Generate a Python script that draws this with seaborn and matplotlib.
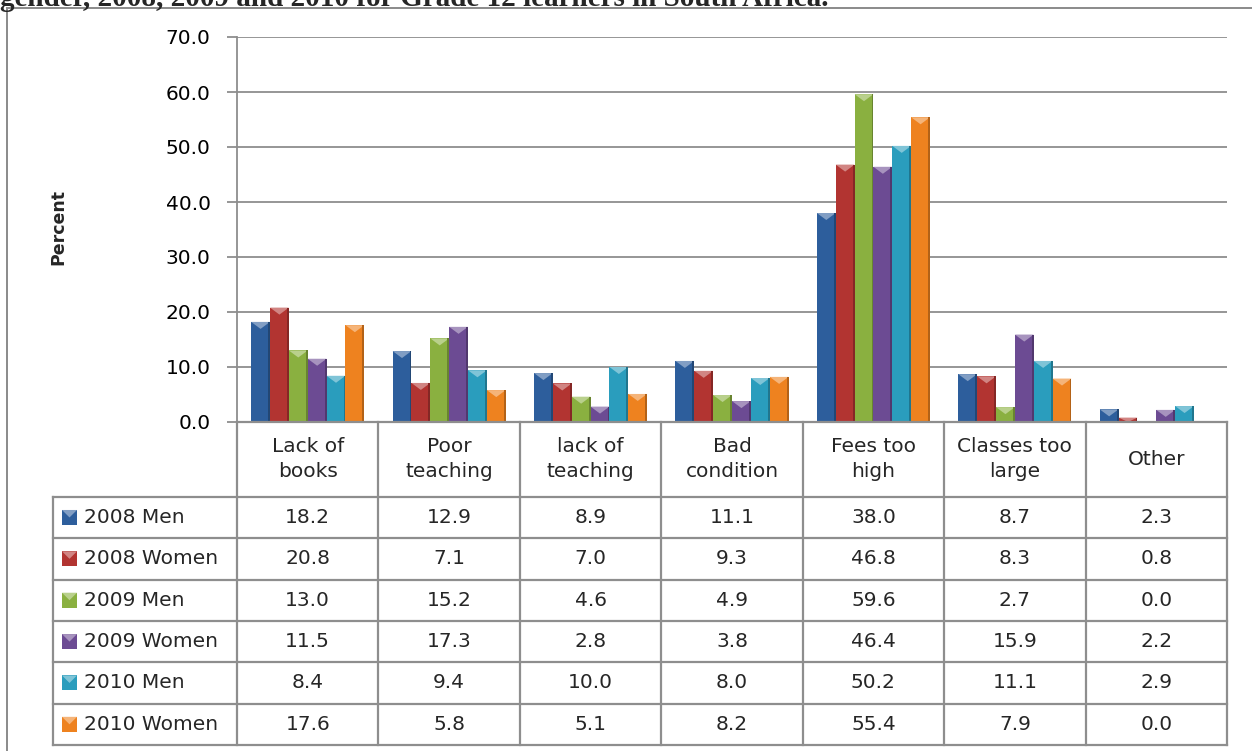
import numpy as np
import pandas as pd
import matplotlib
matplotlib.use("Agg")
import matplotlib.pyplot as plt
from matplotlib.patches import Polygon, Rectangle
import matplotlib.colors as mcolors
import seaborn as sns

CATEGORIES = ["Lack of\nbooks", "Poor\nteaching", "lack of\nteaching", "Bad\ncondition",
              "Fees too\nhigh", "Classes too\nlarge", "Other"]
SERIES = ["2008 Men", "2008 Women", "2009 Men", "2009 Women", "2010 Men", "2010 Women"]

MEN_2008 = [18.2, 12.9, 8.9, 11.1, 38.0, 8.7, 2.3]
WOMEN_2008 = [20.8, 7.1, 7.0, 9.3, 46.8, 8.3, 0.8]
MEN_2009 = [13.0, 15.2, 4.6, 4.9, 59.6, 2.7, 0.0]
WOMEN_2009 = [11.5, 17.3, 2.8, 3.8, 46.4, 15.9, 2.2]
MEN_2010 = [8.4, 9.4, 10.0, 8.0, 50.2, 11.1, 2.9]
WOMEN_2010 = [17.6, 5.8, 5.1, 8.2, 55.4, 7.9, 0.0]

COLORS = ["#2D5E9C", "#B23431", "#8AB040", "#6C4B93", "#2A9DBD", "#EE821F"]
TITLE = "gender, 2008, 2009 and 2010 for Grade 12 learners in South Africa."

values = [MEN_2008, WOMEN_2008, MEN_2009, WOMEN_2009, MEN_2010, WOMEN_2010]
df = pd.DataFrame([
    {"category": c, "series": s, "value": v}
    for s, vals in zip(SERIES, values)
    for c, v in zip(CATEGORIES, vals)
])

sns.set_theme(style="white")
plt.rcParams["font.family"] = ["DejaVu Sans"]

W, H = 1252, 751
GRID = "#8E8E8E"
FS = 14.5


def fx(px):
    return px / W


def fy(py):
    return 1 - py / H


fig = plt.figure(figsize=(W / 100, H / 100), dpi=100)
fig.patch.set_facecolor("white")

# plot area in pixel box
L, R, T, B = 237, 1227, 37, 422
ax = fig.add_axes([fx(L), fy(B), (R - L) / W, (B - T) / H])

sns.barplot(data=df, x="category", y="value", hue="series",
            order=CATEGORIES, hue_order=SERIES, palette=COLORS,
            width=0.8, gap=0, saturation=1, legend=False, ax=ax,
            edgecolor="none")

# bevel-like highlight at the top of each bar
px_per_unit = (B - T) / 70.0
depth = 7 / px_per_unit
for p in ax.patches:
    h = p.get_height()
    if h <= 0:
        continue
    x0 = p.get_x()
    w = p.get_width()
    fc = mcolors.to_rgb(p.get_facecolor())
    light = tuple(min(1, c + (1 - c) * 0.4) for c in fc)
    dark = tuple(c * 0.75 for c in fc)
    d = min(depth, h)
    ax.add_patch(Polygon([(x0, h), (x0 + w, h), (x0 + w / 2, h - d)],
                         closed=True, facecolor=light, edgecolor="none", zorder=3))
    ax.add_patch(Rectangle((x0 + w * 0.9, 0), w * 0.1, h, facecolor=dark,
                           edgecolor="none", zorder=3))

ax.set_xlim(-0.5, len(CATEGORIES) - 0.5)
ax.set_ylim(0, 70)
ax.set_yticks(np.arange(0, 71, 10))
ax.set_yticklabels([f"{t:.1f}" for t in np.arange(0, 71, 10)], fontsize=FS)
ax.set_xticks([])
ax.set_xlabel("")
ax.set_ylabel("")
ax.yaxis.grid(True, color=GRID, linewidth=1.3, zorder=0)
ax.set_axisbelow(True)
for s in ["top", "right", "bottom"]:
    ax.spines[s].set_visible(False)
ax.spines["left"].set_color(GRID)
ax.spines["left"].set_linewidth(1.3)
ax.tick_params(axis="y", which="both", left=True, length=7, width=1.3,
               color=GRID, pad=12, labelcolor="black")

# data table under the plot, sharing the category positions
tb = fig.add_axes([fx(L), fy(745), (R - L) / W, (745 - B) / H])
col_w = (R - L) / len(CATEGORIES)
head = 75 / 41.5
nrows = len(SERIES)
tb.set_xlim(-0.5, len(CATEGORIES) - 0.5)
tb.set_ylim(head + nrows, 0)
tb.axis("off")
xl = -0.5 - (L - 53) / col_w
lkw = dict(color=GRID, linewidth=1.6, clip_on=False, solid_capstyle="projecting")

tb.plot([-0.5, len(CATEGORIES) - 0.5], [0, 0], **lkw)
for k in range(len(CATEGORIES) + 1):
    tb.plot([k - 0.5, k - 0.5], [0, head + nrows], **lkw)
for r in range(nrows + 1):
    tb.plot([xl, len(CATEGORIES) - 0.5], [head + r, head + r], **lkw)
tb.plot([xl, xl], [head, head + nrows], **lkw)

for i, c in enumerate(CATEGORIES):
    tb.text(i, head / 2, c, ha="center", va="center", fontsize=FS,
            linespacing=1.4)

key_w = 15 / col_w
key_h = 15 / 41.5
for r, (s, vals, col) in enumerate(zip(SERIES, values, COLORS)):
    yc = head + r + 0.5
    kx = xl + 9 / col_w
    tb.add_patch(Rectangle((kx, yc - key_h / 2), key_w, key_h, facecolor=col,
                           edgecolor="none", clip_on=False))
    fc = mcolors.to_rgb(col)
    light = tuple(min(1, c + (1 - c) * 0.4) for c in fc)
    tb.add_patch(Polygon([(kx, yc - key_h / 2), (kx + key_w, yc - key_h / 2),
                          (kx + key_w / 2, yc)], closed=True, facecolor=light,
                         edgecolor="none", clip_on=False))
    tb.text(xl + 31 / col_w, yc, s, ha="left", va="center", fontsize=FS,
            clip_on=False)
    for i, v in enumerate(vals):
        tb.text(i, yc, f"{v:.1f}", ha="center", va="center", fontsize=FS)

fig.text(fx(58), fy(227), "Percent", rotation=90, ha="center", va="center",
         fontsize=12.5, fontweight="bold")

fig.text(0, fy(6), TITLE, ha="left", va="baseline", fontsize=21,
         fontweight="bold", family=["Liberation Serif", "DejaVu Serif"])

fig.add_artist(Rectangle((fx(7), -0.1), 1.2, fy(8) + 0.1, transform=fig.transFigure,
                         fill=False, edgecolor="#8A8A8A", linewidth=1.4))

fig.savefig("out.png", dpi=100, facecolor="white")
